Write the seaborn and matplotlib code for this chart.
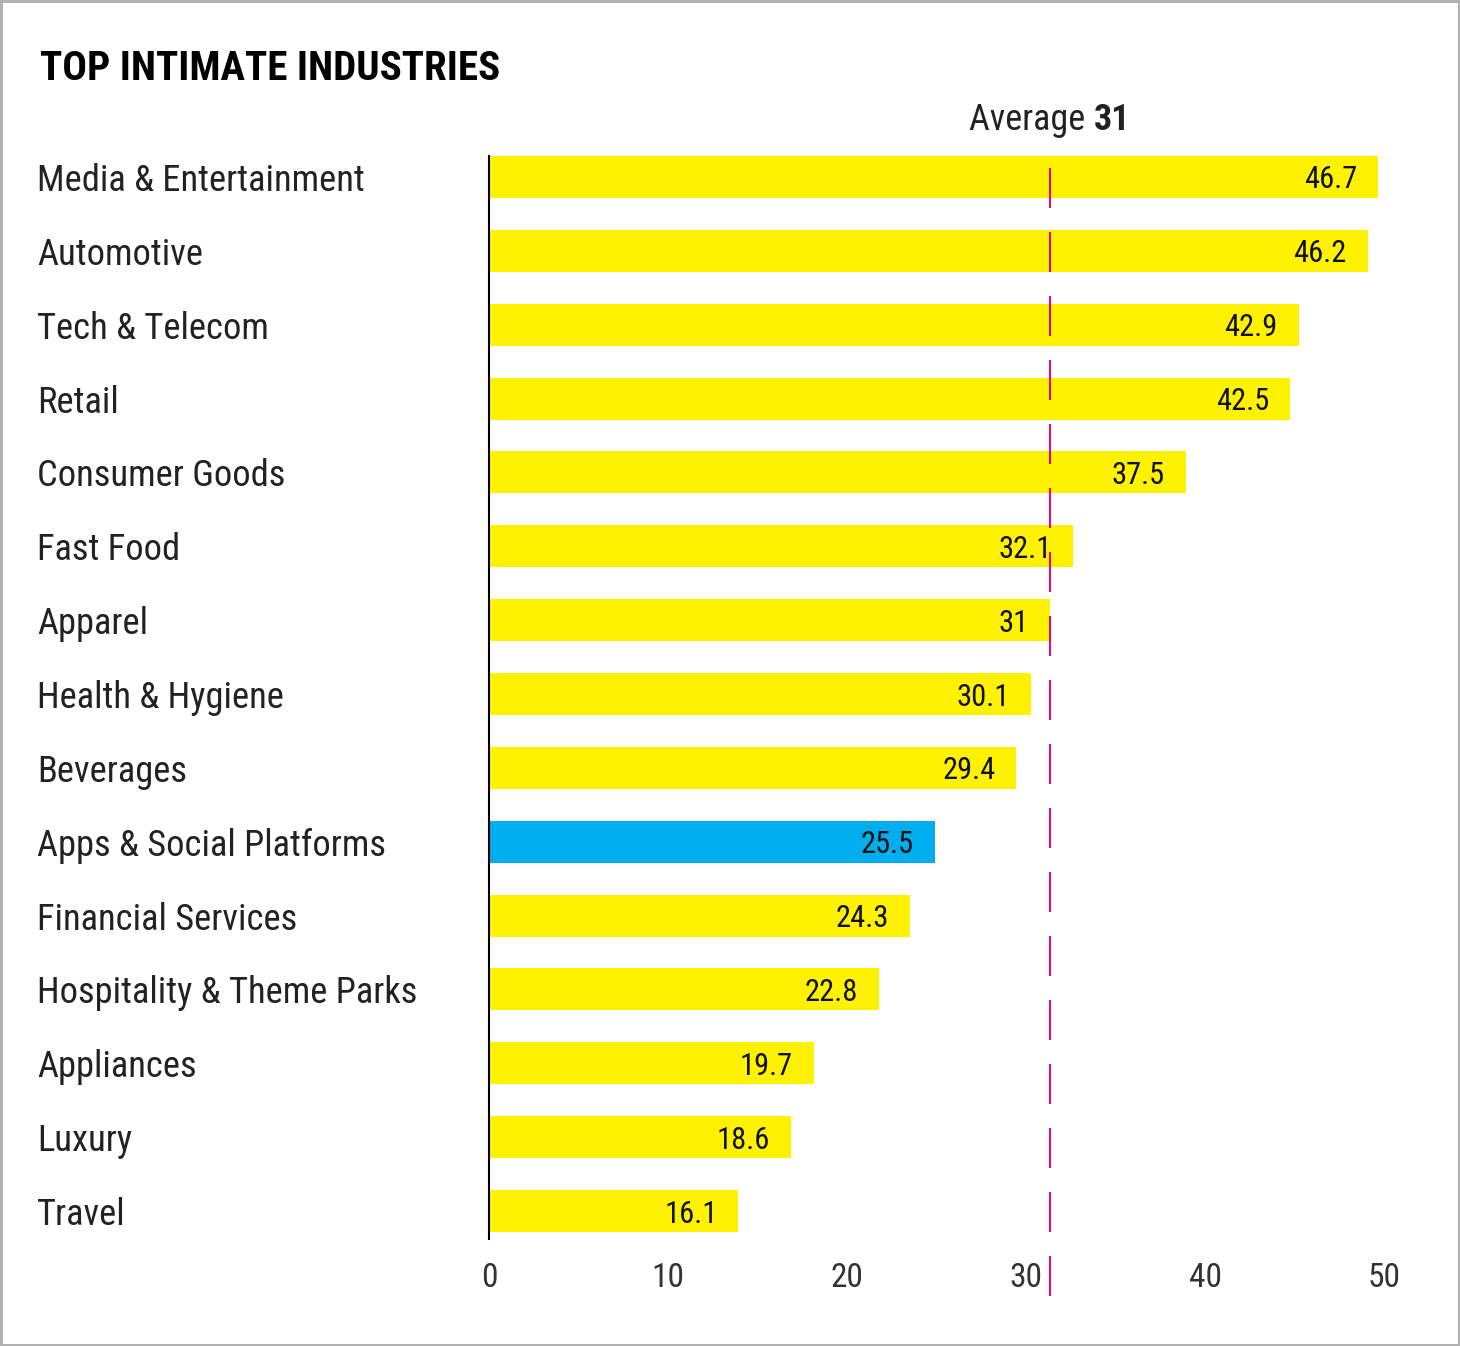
import matplotlib
matplotlib.use("Agg")
import matplotlib.pyplot as plt
from matplotlib import font_manager as fm
from matplotlib.patches import Rectangle
import seaborn as sns
import pandas as pd

# ---------------- data ----------------
categories = ["Media & Entertainment", "Automotive", "Tech & Telecom", "Retail",
              "Consumer Goods", "Fast Food", "Apparel", "Health & Hygiene",
              "Beverages", "Apps & Social Platforms", "Financial Services",
              "Hospitality & Theme Parks", "Appliances", "Luxury", "Travel"]
values = [46.7, 46.2, 42.9, 42.5, 37.5, 32.1, 31, 30.1, 29.4, 25.5, 24.3,
          22.8, 19.7, 18.6, 16.1]
highlight = "Apps & Social Platforms"
average = 31
axis_ticks = [0, 10, 20, 30, 40, 50]
title = "TOP INTIMATE INDUSTRIES"

YELLOW = "#FFF200"
BLUE = "#00AEEF"
MAGENTA = "#EC008C"

sns.set_style("white")
names = {f.name for f in fm.fontManager.ttflist}
FONT = "DejaVu Sans"
for cand in ["Liberation Sans Narrow", "Roboto Condensed", "Open Sans Condensed", "Roboto"]:
    if cand in names:
        FONT = cand
        break
plt.rcParams["font.family"] = [FONT, "DejaVu Sans"]

W, H = 1460, 1346
DPI = 100
fig = plt.figure(figsize=(W / DPI, H / DPI), dpi=DPI)
fig.patch.set_facecolor("white")

# axes geometry (pixels)
x_left, x_right = 489, 1384
y_top, y_bot = 155.7, 1239.3
ax = fig.add_axes([x_left / W, 1 - y_bot / H, (x_right - x_left) / W, (y_bot - y_top) / H])

df = pd.DataFrame({"category": categories, "value": values})
palette = {c: (BLUE if c == highlight else YELLOW) for c in categories}
sns.barplot(data=df, y="category", x="value", hue="category", palette=palette,
            order=categories, width=0.57, legend=False, saturation=1,
            edgecolor="none", linewidth=0, ax=ax)

# bar scale: value 0 sits at pixel 402, 20.9 px per unit (as in the original)
px_per = 20.9
zero_px = 402
ax.set_xlim((x_left - zero_px) / px_per, (x_right - zero_px) / px_per)
ax.set_ylim(14 + (y_bot - 1211) / 73.86, -(177 - y_top) / 73.86)

ax.set_xlabel("")
ax.set_ylabel("")
ax.set_xticks([])
for s in ["top", "right", "bottom"]:
    ax.spines[s].set_visible(False)
ax.spines["left"].set_color("black")
ax.spines["left"].set_linewidth(1.5)
ax.spines["left"].set_zorder(5)

# category labels, left aligned at x=37px
ax.set_yticks(range(len(categories)))
ax.set_yticklabels(categories, ha="left", fontsize=26.3, color="#222222")
ax.tick_params(axis="y", length=0, pad=(x_left - 37) * 72 / DPI)

# value labels inside bar ends
for i, v in enumerate(values):
    ax.annotate(f"{v:g}", xy=(v, i), xytext=(-21 * 72 / DPI, 0),
                textcoords="offset points", ha="right", va="center_baseline",
                fontsize=22, color="#111111", zorder=6)

# average dashed line
yfrac_top = (y_bot - 168) / (y_bot - y_top)
yfrac_bot = (y_bot - 1296) / (y_bot - y_top)
ax.plot([average, average], [yfrac_top, yfrac_bot], transform=ax.get_xaxis_transform(),
        color=MAGENTA, linewidth=1.44, dashes=(20, 12), clip_on=False, zorder=10,
        solid_capstyle="butt", dash_capstyle="butt")

# secondary axis with the printed 0-50 scale
ax2 = ax.twiny()
ax2.set_xlim(axis_ticks[0], axis_ticks[-1])
ax2.set_xticks(axis_ticks)
ax2.set_xticklabels([str(t) for t in axis_ticks], fontsize=24, color="#333333")
ax2.xaxis.set_ticks_position("bottom")
ax2.xaxis.set_label_position("bottom")
ax2.tick_params(axis="x", length=0, pad=16)
for s in ax2.spines.values():
    s.set_visible(False)
ax2.patch.set_visible(False)

# average label "Average 31" centred on the line
fig.canvas.draw()
r = fig.canvas.get_renderer()
base_y = 1 - 130 / H
line_x_px = ax.transData.transform((average, 0))[0]
t1 = fig.text(0, base_y, "Average ", fontsize=26, color="#222222", va="baseline", ha="left")
t2 = fig.text(0, base_y, f"{average:g}", fontsize=26, color="#222222", fontweight="bold",
              va="baseline", ha="left")
w1 = t1.get_window_extent(r).width
w2 = t2.get_window_extent(r).width
start = line_x_px - (w1 + w2) / 2
t1.set_x(start / W)
t2.set_x((start + w1) / W)

# title
fig.text(40 / W, 1 - 80 / H, title, fontsize=29.5, fontweight="bold", color="black",
         va="baseline", ha="left")

# light grey frame
fig.patches.append(Rectangle((0, 0), 1, 1, transform=fig.transFigure, fill=False,
                             edgecolor="#b0b0b0", linewidth=3.6, zorder=100))

fig.savefig("out.png", dpi=DPI, facecolor="white")
